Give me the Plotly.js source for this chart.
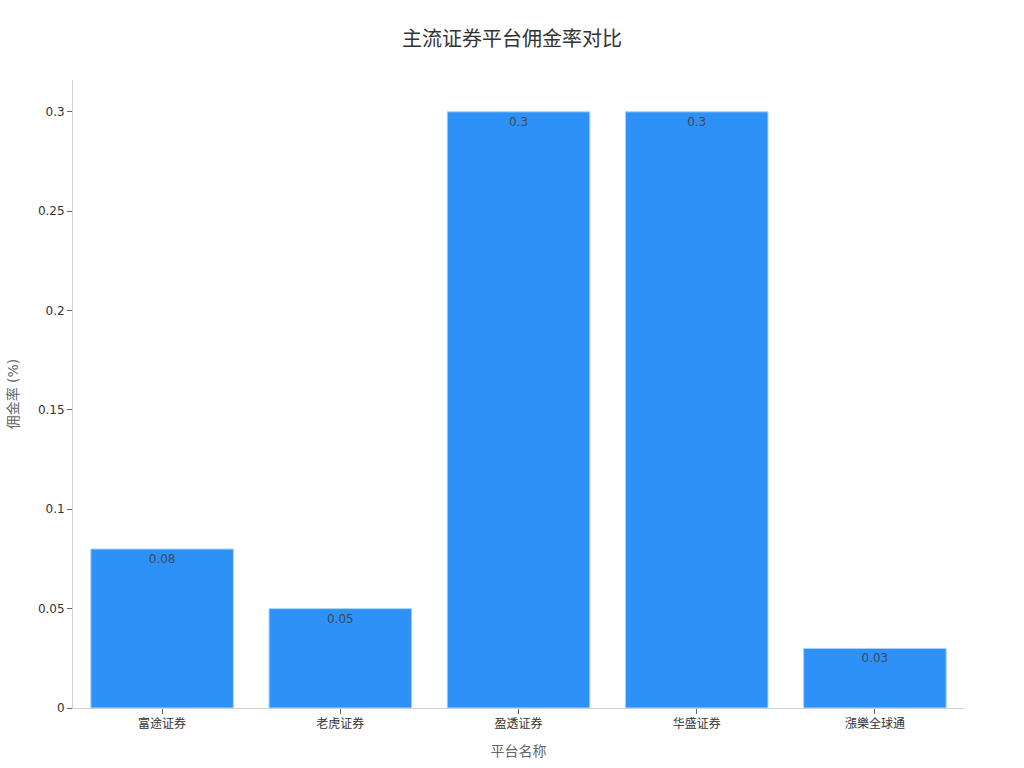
<!DOCTYPE html>
<html>
<head>
<meta charset="utf-8">
<script src="https://cdn.plot.ly/plotly-3.0.1.min.js"></script>
<style>
  html, body { margin: 0; padding: 0; background: #fff; }
  #chart { width: 1024px; height: 768px; }
</style>
</head>
<body>
<div id="chart"></div>
<script>
// ---------------------------------------------------------------
// DATA

const platforms = ['富途证券', '老虎证券', '盈透证券', '华盛证券', '漲樂全球通'];
const commissionRates = [0.08, 0.05, 0.3, 0.3, 0.03];
const yTickValues = [0, 0.05, 0.1, 0.15, 0.2, 0.25, 0.3];
const yTickLabels = ['0', '0.05', '0.1', '0.15', '0.2', '0.25', '0.3'];

// ---------------------------------------------------------------
// TRACE

const FONT = 'DejaVu Sans, "Noto Sans CJK SC", sans-serif';

let trace = {
    type: 'bar',
    x: platforms,
    y: commissionRates,
    text: commissionRates.map(String),
    textposition: 'inside',
    insidetextanchor: 'end',
    textfont: { family: FONT, size: 12, color: '#3a4a5c' },
    marker: {
        color: '#2e91f8',
        line: { color: '#a9d3fb', width: 1 }
    },
    hoverinfo: 'x+y'
};

// ---------------------------------------------------------------
// LAYOUT

let layout = {
    width: 1024,
    height: 768,
    margin: { t: 80, r: 60, b: 60, l: 73 },
    paper_bgcolor: '#fff',
    plot_bgcolor: '#fff',
    font: { family: FONT, size: 12, color: '#333' },
    title: {
        text: '主流证券平台佣金率对比',
        x: 0.5,
        y: 0.958,
        xanchor: 'center',
        font: { family: FONT, size: 20, color: '#333' }
    },
    bargap: 0.2,
    showlegend: false,
    xaxis: {
        title: { text: '平台名称', font: { size: 14, color: '#666' }, standoff: 15 },
        showline: true,
        linecolor: '#d0d0d0',
        linewidth: 1,
        ticks: 'outside',
        ticklen: 5,
        tickcolor: '#666',
        tickfont: { size: 12, color: '#333' },
        showgrid: false,
        zeroline: false
    },
    yaxis: {
        title: { text: '佣金率 (%)', font: { size: 14, color: '#666' }, standoff: 15 },
        range: [0, 0.316],
        tickvals: yTickValues,
        ticktext: yTickLabels,
        showline: true,
        linecolor: '#d0d0d0',
        linewidth: 1,
        ticks: 'outside',
        ticklen: 5,
        tickcolor: '#666',
        tickfont: { size: 12, color: '#333' },
        showgrid: false,
        zeroline: false
    }
};

const config = { displayModeBar: false, staticPlot: true };

Plotly.newPlot(document.getElementById('chart'), [trace], layout, config);
</script>
</body>
</html>
